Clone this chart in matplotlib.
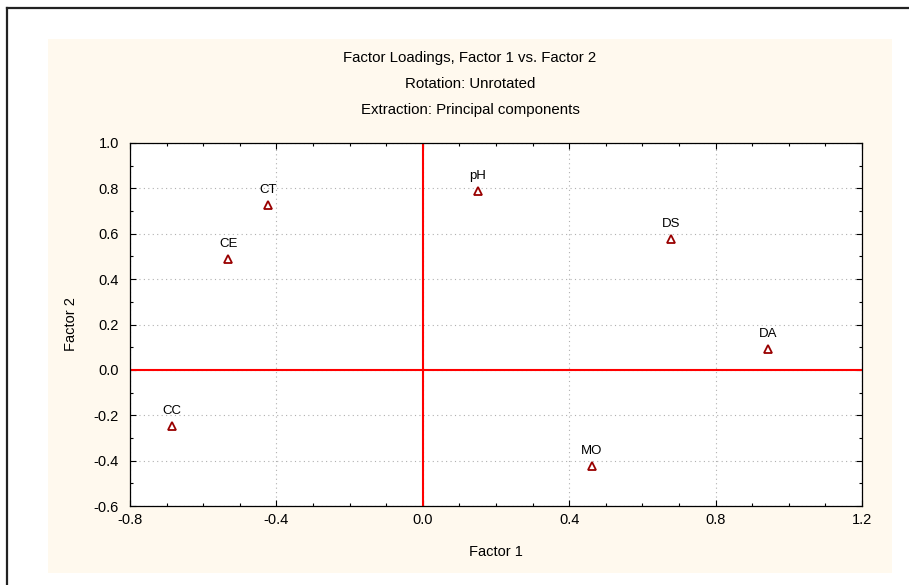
import matplotlib
matplotlib.use("Agg")
import matplotlib.pyplot as plt
from matplotlib.patches import Rectangle
from matplotlib.lines import Line2D
from matplotlib.ticker import MultipleLocator

plt.rcParams['font.family'] = ['Liberation Sans', 'DejaVu Sans']

variables = ["CC", "CE", "CT", "pH", "DS", "DA", "MO"]
factor1 = [-0.685, -0.532, -0.423, 0.151, 0.678, 0.943, 0.462]
factor2 = [-0.247, 0.490, 0.725, 0.790, 0.575, 0.092, -0.424]

W, H = 909, 585
fig = plt.figure(figsize=(W / 100, H / 100), dpi=100)
fig.patch.set_facecolor('white')

# beige panel
fig.patches.append(Rectangle((48 / W, 1 - 573 / H), 844 / W, 534 / H,
                             transform=fig.transFigure, facecolor='#fff9ee',
                             edgecolor='none', zorder=-5))
# outer border (top and left)
fig.lines.append(Line2D([7 / W, 1], [1 - 8 / H, 1 - 8 / H], transform=fig.transFigure,
                        color='#222222', lw=1.6, zorder=-4))
fig.lines.append(Line2D([7 / W, 7 / W], [0, 1 - 8 / H], transform=fig.transFigure,
                        color='#222222', lw=1.6, zorder=-4))

ax = fig.add_axes([130 / W, 1 - 506 / H, (862 - 130) / W, (506 - 143) / H])
ax.set_zorder(2)
ax.set_facecolor('white')
ax.set_xlim(-0.8, 1.2)
ax.set_ylim(-0.6, 1.0)
ax.xaxis.set_major_locator(MultipleLocator(0.4))
ax.xaxis.set_minor_locator(MultipleLocator(0.1))
ax.yaxis.set_major_locator(MultipleLocator(0.2))
ax.yaxis.set_minor_locator(MultipleLocator(0.1))
ax.xaxis.set_major_formatter(plt.FuncFormatter(lambda v, p: f"{v:.1f}"))
ax.yaxis.set_major_formatter(plt.FuncFormatter(lambda v, p: f"{v:.1f}"))
ax.tick_params(which='both', direction='in', top=True, right=True, color='black', width=0.8)
ax.tick_params(which='major', length=4, labelsize=10.5)
ax.tick_params(which='minor', length=2.5)
ax.tick_params(axis='x', which='major', pad=5)
ax.tick_params(axis='y', which='major', pad=8)
for s in ax.spines.values():
    s.set_color('black')
    s.set_linewidth(0.9)

ax.grid(True, which='major', linestyle=(0, (1, 3)), color='#b0b0b0', linewidth=0.8)
ax.axhline(0, color='red', lw=1.5, zorder=2)
ax.axvline(0, color='red', lw=1.5, zorder=2)

ax.plot(factor1, factor2, linestyle='none', marker='^', markersize=6,
        markerfacecolor='white', markeredgecolor='#990000', markeredgewidth=1.3, zorder=3)
for name, x, y in zip(variables, factor1, factor2):
    ax.annotate(name, (x, y), xytext=(0, 6.5), textcoords='offset points',
                ha='center', va='bottom', fontsize=9.5)

ax.set_xlabel("Factor 1", fontsize=10.5, labelpad=13)
ax.set_ylabel("Factor 2", fontsize=10.5, labelpad=11)

cx = 470 / W
for txt, yy in [("Factor Loadings, Factor 1 vs. Factor 2", 58),
                ("Rotation: Unrotated", 84),
                ("Extraction: Principal components", 110)]:
    fig.text(cx, 1 - yy / H, txt, ha='center', va='center', fontsize=10.8)

fig.savefig("out.png", dpi=100)
